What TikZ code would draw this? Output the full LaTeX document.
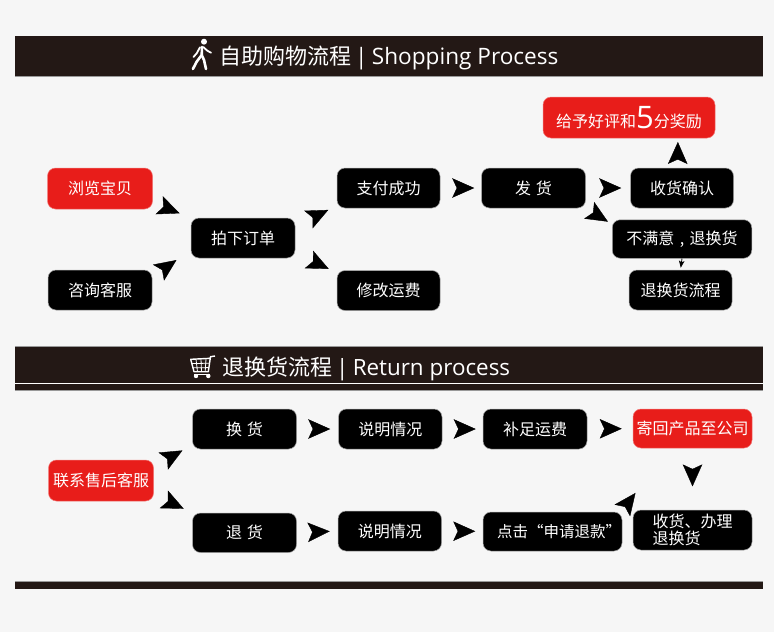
\documentclass[tikz,border=0pt]{standalone}
\usepackage{fontspec}
\setmainfont{Noto Sans CJK SC}
\newfontfamily\latinfont{Open Sans}
\usetikzlibrary{positioning, arrows.meta}
\definecolor{barbrown}{HTML}{231815}
\definecolor{flowred}{HTML}{E81D1A}
\definecolor{pagegray}{HTML}{F6F6F6}
\tikzset{
    stepbox/.style={draw=gray!70, line width=0.5pt, fill=black, text=white, rounded corners=8pt, inner sep=0pt,
        minimum width=104pt, minimum height=40pt, align=left, font=\fontsize{16}{16.5}\selectfont},
    redbox/.style={stepbox, draw=flowred!60!white, fill=flowred},
    headbar/.style={fill=barbrown, inner sep=0pt, minimum width=748pt},
    headtext/.style={anchor=west, inner sep=0pt, text=white, font=\fontsize{22}{24}\selectfont},
    barline/.style={draw=gray!80, line width=0.8pt},
    flowtip/.style={-{Stealth[length=22pt, width=19.5pt, inset=4.5pt]}, line width=0.4pt, black},
    smalltip/.style={-{Stealth[length=7pt, width=5.5pt, inset=1.5pt]}, line width=0.8pt, black},
    iconline/.style={draw=white, line width=2.6pt, line cap=round, line join=round}
}
\begin{document}
\begin{tikzpicture}[x=1pt, y=-1pt]
    \path[use as bounding box, fill=pagegray] (0,0) rectangle (774,632);

    \node[headbar, minimum height=40pt] (shopbar) at (389,56) {};
    \node[headbar, minimum height=43pt] (returnbar) at (389,368.5) {};
    \node[headbar, minimum height=7pt] (endbar) at (389,585.5) {};
    \draw[barline] (shopbar.south west) -- (shopbar.south east);
    \draw[barline] (returnbar.north west) -- (returnbar.north east);
    \draw[barline] (returnbar.south west) -- (returnbar.south east);
    \draw[barline] (endbar.north west) -- (endbar.north east);
    \draw[white, line width=0.9pt] ([yshift=6.5pt]returnbar.south west) -- ([yshift=6.5pt]returnbar.south east);

    \node[headtext] (shoptitle) at (219,58) {自助购物流程 {\latinfont\fontsize{22.6}{24}\selectfont\hspace{-1pt}|\hspace{-1.5pt} Shopping Process}};
    \node[headtext] (returntitle) at (222,369) {退换货流程 {\latinfont\fontsize{22.4}{24}\selectfont\hspace{-1pt}|\hspace{-1.5pt} Return process}};

    \fill[white] (204,41.7) circle (3);
    \draw[iconline] (202,47) -- (201.7,55) -- (196.7,61.7) -- (192.9,69);
    \draw[iconline] (201.7,55) -- (204,60) -- (206,69);
    \draw[iconline, line width=1.8pt] (203.3,47) -- (207.3,50.7) -- (211,52.7);
    \draw[iconline, line width=1.8pt] (200,47.3) -- (196.7,53.3) -- (193.5,57);

    \draw[white, line width=1.4pt, line join=round] (215,356) -- (210.5,356.7) -- (208.3,371.7) -- (194,371.7) -- (190.7,359.3) -- (210.5,358.3);
    \draw[white, line width=0.8pt] (191.8,363.6) -- (209.6,363.2) (193,367.8) -- (209,367.6)
        (196,359.2) -- (197.5,371.7) (201,359) -- (201.5,371.7) (206,358.8) -- (205.2,371.7);
    \draw[white, line width=1.2pt] (194,374.2) -- (210,374.2);
    \fill[white] (196,376) circle (2.2) (208.3,376) circle (2.2);

    \node[redbox, minimum width=105pt, minimum height=41pt] (browse) at (100,188.5) {浏览宝贝};
    \node[stepbox] (consult) at (100,290) {咨询客服};
    \node[stepbox] (order) at (243,238) {拍下订单};
    \node[stepbox, minimum width=103pt] (pay) at (388.5,188) {支付成功};
    \node[stepbox, minimum width=103pt, below=62pt of pay] (postage) {修改运费};
    \node[stepbox, right=41pt of pay] (ship) {发\hspace{5pt}货};
    \node[stepbox, minimum width=103pt, right=44.5pt of ship] (confirm) {收货确认};
    \node[redbox, minimum width=172pt, minimum height=41pt] (reward) at (629,117.5) {给予好评和\raisebox{-1pt}{\latinfont\fontsize{31}{31}\selectfont 5}分奖励};
    \node[stepbox, minimum width=139.5pt, minimum height=38.5pt] (unhappy) at (682,239) {不满意\hspace{5.5pt},\hspace{5.5pt}退换货};
    \node[stepbox, minimum width=103pt] (refundflow) at (680.5,290) {退换货流程};

    \draw[flowtip, shorten <=14pt, shorten >=12pt] (browse.-15) -- (order.north west);
    \draw[flowtip, shorten <=14pt, shorten >=17.4pt] (consult.14) -- (order.193);
    \draw[flowtip, shorten <=21.6pt, shorten >=9.4pt] (order.13) -- (pay.199);
    \draw[flowtip, shorten <=21.2pt, shorten >=8.8pt] (order.-16) -- (postage.161);
    \draw[flowtip, shorten <=18pt, shorten >=7pt] (pay) -- (ship);
    \draw[flowtip, shorten <=19pt, shorten >=9pt] (ship) -- (confirm);
    \draw[flowtip, shorten <=10pt, shorten >=3.7pt] (confirm.102) -- (reward.-23);
    \draw[flowtip, shorten <=11pt, shorten >=4.7pt] (ship.south east) -- (unhappy.168);
    \draw[smalltip, shorten >=2pt] (unhappy.south) -- (refundflow.north);

    \node[redbox, minimum width=105pt, minimum height=41pt] (contact) at (101,480.5) {联系售后客服};
    \node[stepbox] (exchange) at (244.5,429) {换\hspace{5pt}货};
    \node[stepbox, minimum height=39.5pt] (refund) at (244.5,532.75) {退\hspace{5pt}货};
    \node[stepbox, minimum width=103.5pt, right=41.5pt of exchange] (explaina) {说明情况};
    \node[stepbox, minimum width=103.5pt] (explainb) at (389.75,531) {说明情况};
    \node[stepbox, right=40.5pt of explaina] (topup) {补足运费};
    \node[redbox, minimum width=119pt, minimum height=39pt] (sendback) at (692.5,428.5) {寄回产品至公司};
    \node[stepbox, minimum width=139pt, minimum height=39pt, font=\fontsize{15.5}{16}\selectfont] (apply) at (552.5,531.5) {\hspace*{13pt}点击“申请退款”};
    \node[stepbox, minimum width=119pt] (receive) at (692.5,530) {收货、办理\\退换货};

    \draw[flowtip, shorten <=17.8pt, shorten >=11.2pt] (contact.15) -- (exchange.197);
    \draw[flowtip, shorten <=17.4pt, shorten >=9.4pt] (contact.-15) -- (refund.north west);
    \draw[flowtip, shorten <=16.5pt, shorten >=8pt] (exchange) -- (explaina);
    \draw[flowtip, shorten <=16.5pt, shorten >=8pt] (refund.east) -- (explainb.west);
    \draw[flowtip, shorten <=16.5pt, shorten >=7pt] (explaina) -- (topup);
    \draw[flowtip, shorten <=18pt, shorten >=7.5pt] (explainb) -- (apply);
    \draw[flowtip, shorten <=19pt, shorten >=11pt] (topup) -- (sendback);
    \draw[flowtip, shorten <=22.3pt, shorten >=23.3pt] (sendback) -- (receive);
    \draw[flowtip, shorten <=9pt, shorten >=55.8pt] (apply.16) -- (sendback.220);
\end{tikzpicture}
\end{document}
